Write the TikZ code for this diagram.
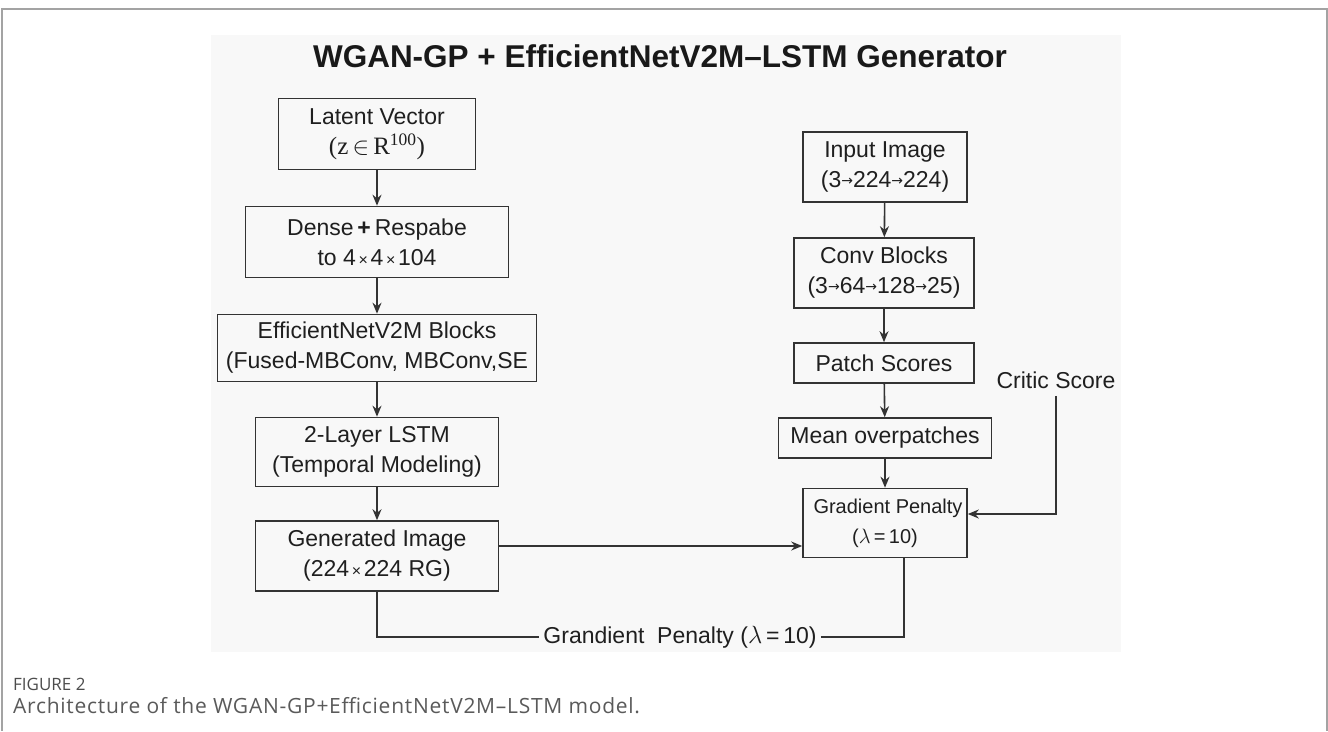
\documentclass[tikz,border=0pt]{standalone}
\usepackage[no-math]{fontspec}
\setmainfont{Liberation Sans}
\newfontfamily\capfont[LetterSpace=3.5]{Open Sans}
\newfontfamily\fignumfont{Open Sans}
\newfontfamily\serifpart{Liberation Serif}
\newfontfamily\symfont{DejaVu Sans}
\usetikzlibrary{arrows.meta,calc,positioning}
\definecolor{panelbg}{HTML}{F8F8F8}
\definecolor{inkgray}{HTML}{333333}
\definecolor{framegray}{HTML}{A3A3A3}
\definecolor{capgray}{HTML}{5A5A5A}
\newcommand{\tinyarr}{{\symfont\fontsize{14}{14}\selectfont\raisebox{2pt}{→}}}
\newcommand{\tinyx}{{\fontsize{16}{16}\selectfont\,×\,}}

\begin{document}
\begin{tikzpicture}[x=1pt,y=-1pt,
  blk/.style={draw=inkgray,line width=1.6pt,fill=panelbg,align=center,inner sep=0pt,
    font=\fontsize{23}{30}\selectfont,text=black!88},
  flow/.style={draw=inkgray,line width=1.6pt,-{Stealth[length=11pt,width=9pt]}},
  link/.style={draw=inkgray,line width=1.6pt}]
\useasboundingbox (0,0) rectangle (1328,731);
% page frame and panel
\draw[framegray,line width=2pt] (2,731) -- (2,8.5) -- (1327,8.5) -- (1327,731);
\fill[panelbg] (211,35) rectangle (1121,652);
\node[font=\bfseries\fontsize{31.5}{31.5}\selectfont,text=black!90] (title) at (660,56) {WGAN-GP + EfficientNetV2M–LSTM Generator};

% generator column
\node[blk,minimum width=197pt,minimum height=71pt] (latent) at (377,134) {Latent Vector\\{\serifpart\fontsize{25}{30}\selectfont(z\,$\in$\,R\textsuperscript{100})}};
\node[blk,minimum width=263pt,minimum height=71pt] (dense) at (377,242) {Dense\,{\bfseries +}\,Respabe\\to 4\tinyx4\tinyx104};
\node[blk,minimum width=319pt,minimum height=67pt] (effnet) at (377,348) {EfficientNetV2M Blocks\\(Fused-MBConv, MBConv,SE};
\node[blk,minimum width=243pt,minimum height=69pt] (lstm) at (377,452) {2-Layer LSTM\\(Temporal Modeling)};
\node[blk,minimum width=243pt,minimum height=70pt] (gen) at (377,556) {Generated Image\\(224\tinyx224 RG)};

% critic column
\node[blk,minimum width=164pt,minimum height=70pt] (input) at (885,167) {Input Image\\(3\tinyarr224\tinyarr224)};
\node[blk,minimum width=180pt,minimum height=70pt] (conv) at (884,273) {Conv Blocks\\(3\tinyarr64\tinyarr128\tinyarr25)};
\node[blk,minimum width=180pt,minimum height=40pt] (patch) at (884,363) {Patch Scores};
\node[blk,minimum width=213pt,minimum height=40pt] (mean) at (885,438) {Mean overpatches};
\node[blk,minimum width=164pt,minimum height=69pt,font=\fontsize{20}{30}\selectfont] (gp) at (885,523) {\hspace*{6pt}Gradient Penalty\\($\lambda$\,=\,10)};
\node[font=\fontsize{23}{23}\selectfont,text=black!88] (critic) at (1056,380) {Critic Score};

\draw[flow] (latent) -- (dense);
\draw[flow] (dense) -- (effnet);
\draw[flow] (effnet) -- (lstm);
\draw[flow] (lstm) -- (gen);
\draw[flow] (input) -- (conv);
\draw[flow] (conv) -- (patch);
\draw[flow] (patch) -- (mean);
\draw[flow] (mean) -- (gp);
\draw[flow] ([yshift=10pt]gen.east) -- ([yshift=10pt]gen.east -| gp.west);
\draw[flow] ([yshift=-4pt]critic.south) |- ([yshift=9pt]gp.east);

% penalty feedback line
\node[font=\fontsize{23}{23}\selectfont,text=black!88,inner sep=4pt] (gplbl) at (680,637) {Grandient\ \ Penalty ($\lambda$\,=\,10)};
\draw[link] (gen.south) |- (gplbl.west);
\draw[link] (gplbl.east) -| ([xshift=19pt]gp.south);

% caption
\node[anchor=west,inner sep=0pt,font=\fignumfont\fontsize{17}{17}\selectfont,text=capgray!85!black] (fignum) at (13,684) {FIGURE 2};
\node[anchor=west,inner sep=0pt,font=\capfont\fontsize{21}{21}\selectfont,text=capgray] (figcap) at (13,706) {Architecture of the WGAN-GP+EfficientNetV2M–LSTM model.};
\end{tikzpicture}
\end{document}
